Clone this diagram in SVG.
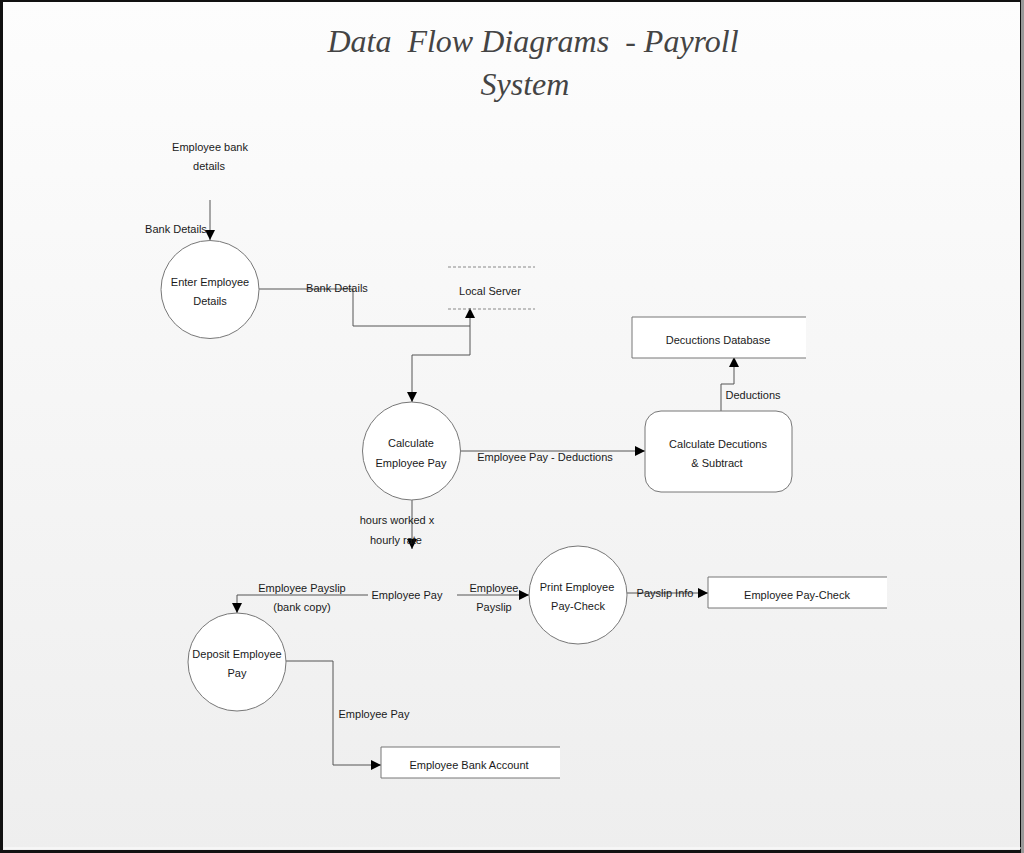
<svg xmlns="http://www.w3.org/2000/svg" width="1024" height="853" viewBox="0 0 1024 853">
<defs>
<linearGradient id="bg" x1="0" y1="0" x2="0" y2="1">
<stop offset="0" stop-color="#fdfdfd"/>
<stop offset="1" stop-color="#eeeeee"/>
</linearGradient>
<marker id="arr" viewBox="0 0 10 10" refX="10" refY="5" markerWidth="10" markerHeight="10" markerUnits="userSpaceOnUse" orient="auto">
<path d="M0,0 L10,5 L0,10 Z" fill="#000"/>
</marker>
<style>
.t{font-family:"Liberation Sans",Arial,sans-serif;font-size:11px;fill:#1a1a1a;text-anchor:middle}
.title{font-family:"Liberation Serif","Times New Roman",serif;font-style:italic;font-size:32px;fill:#444;text-anchor:middle;white-space:pre}
.proc{fill:#fff;stroke:#777;stroke-width:1}
.store{fill:#fff;stroke:none}
.sline{fill:none;stroke:#777;stroke-width:1}
.flow{fill:none;stroke:#555;stroke-width:1}
.arrow{marker-end:url(#arr)}
.dash{stroke:#888;stroke-width:1;stroke-dasharray:3,2;fill:none}
</style>
</defs>
<rect x="0" y="0" width="1024" height="853" fill="url(#bg)"/>
<rect x="1.5" y="0.5" width="1020" height="851" fill="none" stroke="#111" stroke-width="3"/>
<line x1="1022.5" y1="0" x2="1022.5" y2="853" stroke="#999" stroke-width="3"/>
<line x1="4" y1="848" x2="1021" y2="848" stroke="#fff" stroke-width="1"/>

<g id="title">
<text class="title" x="533" y="52">Data  Flow Diagrams  - Payroll</text>
<text class="title" x="525" y="95">System</text>
</g>

<g id="connectors">
<line class="flow arrow" x1="210" y1="200" x2="210" y2="240"/>
<polyline class="flow arrow" points="259,289 353,289 353,326 470,326 470,308"/>
<polyline class="flow arrow" points="470,326 470,355 412,355 412,402"/>
<line class="flow arrow" x1="461" y1="451" x2="645" y2="451"/>
<polyline class="flow arrow" points="721,411 721,384 734,384 734,357"/>
<line class="flow arrow" x1="412" y1="500" x2="412" y2="549"/>
<polyline class="flow arrow" points="368,595 237,595 237,613"/>
<line class="flow arrow" x1="457" y1="595" x2="529" y2="595"/>
<line class="flow arrow" x1="627" y1="593" x2="708" y2="593"/>
<polyline class="flow arrow" points="286,661 333,661 333,765 381,765"/>
<text class="t" x="176" y="233">Bank Details</text>
<text class="t" x="337" y="292">Bank Details</text>
<text class="t" x="545" y="461">Employee Pay - Deductions</text>
<text class="t" x="753" y="399">Deductions</text>
<text class="t" x="397" y="524">hours worked x</text>
<text class="t" x="396" y="544">hourly rate</text>
<text class="t" x="302" y="592">Employee Payslip</text>
<text class="t" x="302" y="611">(bank copy)</text>
<text class="t" x="407" y="599">Employee Pay</text>
<text class="t" x="494" y="592">Employee</text>
<text class="t" x="494" y="611">Payslip</text>
<text class="t" x="665" y="597">Payslip Info</text>
<text class="t" x="374" y="718">Employee Pay</text>
</g>

<g id="source-bank-details">
<text class="t" x="210" y="151">Employee bank</text>
<text class="t" x="209" y="170">details</text>
</g>

<g id="enter-employee-details">
<circle class="proc" cx="210" cy="289.5" r="49"/>
<text class="t" x="210" y="286">Enter Employee</text>
<text class="t" x="210" y="305">Details</text>
</g>

<g id="local-server">
<line class="dash" x1="448" y1="267" x2="535" y2="267"/>
<line class="dash" x1="448" y1="309" x2="535" y2="309"/>
<text class="t" x="490" y="295">Local Server</text>
</g>

<g id="calculate-employee-pay">
<circle class="proc" cx="411.5" cy="451" r="49"/>
<text class="t" x="411" y="447">Calculate</text>
<text class="t" x="411" y="467">Employee Pay</text>
</g>

<g id="calculate-deductions">
<rect class="proc" x="645" y="411" width="147" height="81" rx="16" ry="16"/>
<text class="t" x="718" y="448">Calculate Decutions</text>
<text class="t" x="717" y="467">&amp; Subtract</text>
</g>

<g id="deductions-database">
<rect class="store" x="632" y="317" width="174" height="41"/>
<polyline class="sline" points="806,317 632,317 632,358 806,358"/>
<text class="t" x="718" y="344">Decuctions  Database</text>
</g>

<g id="print-employee-pay-check">
<circle class="proc" cx="578" cy="595" r="49"/>
<text class="t" x="577" y="591">Print Employee</text>
<text class="t" x="578" y="610">Pay-Check</text>
</g>

<g id="employee-pay-check">
<rect class="store" x="708" y="577" width="179" height="31"/>
<polyline class="sline" points="887,577 708,577 708,608 887,608"/>
<text class="t" x="797" y="599">Employee Pay-Check</text>
</g>

<g id="deposit-employee-pay">
<circle class="proc" cx="237" cy="662" r="49"/>
<text class="t" x="237" y="658">Deposit Employee</text>
<text class="t" x="237" y="677">Pay</text>
</g>

<g id="employee-bank-account">
<rect class="store" x="381" y="747" width="179" height="31"/>
<polyline class="sline" points="560,747 381,747 381,778 560,778"/>
<text class="t" x="469" y="769">Employee Bank Account</text>
</g>
</svg>
